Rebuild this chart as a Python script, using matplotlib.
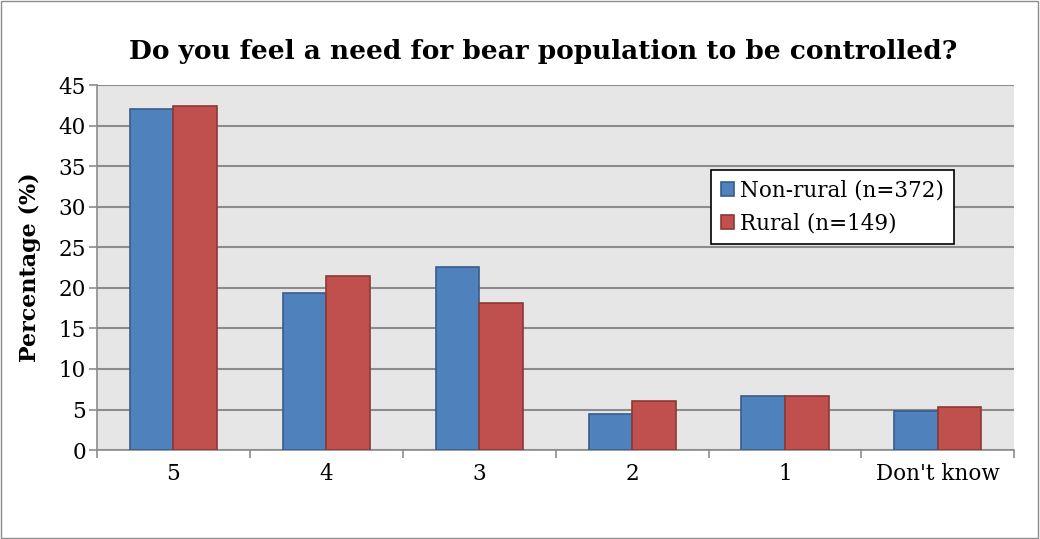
import numpy as np
import matplotlib
matplotlib.use("Agg")
import matplotlib.pyplot as plt
from matplotlib.patches import Rectangle

categories = ["5", "4", "3", "2", "1", "Don't know"]
non_rural = [42.0, 19.4, 22.6, 4.5, 6.7, 4.8]
rural = [42.4, 21.5, 18.1, 6.0, 6.7, 5.3]
labels = ["Non-rural (n=372)", "Rural (n=149)"]

plt.rcParams['font.family'] = ['DejaVu Serif']

fig = plt.figure(figsize=(10.4, 5.39), dpi=100)
# outer chart border
fig.patches.append(Rectangle((0.001, 0.001), 0.997, 0.997, transform=fig.transFigure,
                             fill=False, edgecolor='#8c8c8c', linewidth=1))
ax = fig.add_axes([0.0933, 0.165, 0.882, 0.677])
ax.set_facecolor('#e6e6e6')

x = np.arange(len(categories))
w = 0.285
ax.bar(x - w/2, non_rural, w, color='#4f81bd', edgecolor='#385d8a', linewidth=1.2,
       label=labels[0], zorder=3)
ax.bar(x + w/2, rural, w, color='#c0504d', edgecolor='#8c3836', linewidth=1.2,
       label=labels[1], zorder=3)

ax.set_xlim(-0.5, len(categories) - 0.5)
ax.set_ylim(0, 45)
ax.set_yticks(np.arange(0, 46, 5))
ax.yaxis.grid(True, color='#8c8c8c', linewidth=1.5, zorder=0)
ax.set_axisbelow(True)

ax.set_xticks(x)
ax.set_xticklabels(categories, fontsize=15.5)
ax.tick_params(axis='x', length=0, pad=9)
ax.set_xticks(np.arange(-0.5, len(categories)), minor=True)
ax.tick_params(axis='x', which='minor', length=6, color='#8c8c8c', width=1.2)
ax.tick_params(axis='y', labelsize=15.5, length=6, color='#8c8c8c', width=1.2, pad=2)

for s in ['top', 'right']:
    ax.spines[s].set_visible(False)
for s in ['left', 'bottom']:
    ax.spines[s].set_color('#8c8c8c')
    ax.spines[s].set_linewidth(1.2)

ax.set_ylabel("Percentage (%)", fontsize=16, fontweight='bold')
ax.yaxis.set_label_coords(-0.061, 0.5)
fig.text(0.522, 0.905, "Do you feel a need for bear population to be controlled?",
         ha='center', va='center', fontsize=19, fontweight='bold')

leg = ax.legend(loc='upper left', bbox_to_anchor=(711/1040, 1 - 170/539),
                bbox_transform=fig.transFigure, fontsize=15.5, frameon=True,
                fancybox=False, handlelength=0.6, handleheight=0.6,
                handletextpad=0.3, borderpad=0.45, labelspacing=0.5,
                borderaxespad=0, facecolor='white', framealpha=1)
leg.get_frame().set_edgecolor('black')
leg.get_frame().set_linewidth(1.2)

fig.savefig("out.png", dpi=100)
